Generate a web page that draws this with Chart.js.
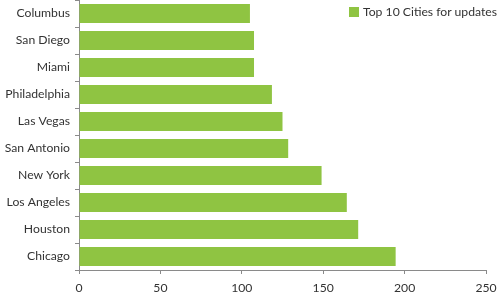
<!DOCTYPE html>
<html>
<head>
<meta charset="utf-8">
<script src="https://cdn.jsdelivr.net/npm/chart.js@4"></script>
<style>
  html, body { margin: 0; padding: 0; background: #fff; }
  #wrap { position: relative; width: 500px; height: 300px; }
  #legend { position: absolute; top: 4px; right: 3px; font: 12.2px Lato, sans-serif; color: #333; display: flex; align-items: center; white-space: nowrap; }
  #legend span.box { display: inline-block; width: 10px; height: 10px; margin-right: 4px; }
</style>
</head>
<body>
<div id="wrap">
  <canvas id="c" width="500" height="300"></canvas>
  <div id="legend"></div>
</div>
<script>
const categories = ["Columbus", "San Diego", "Miami", "Philadelphia", "Las Vegas", "San Antonio", "New York", "Los Angeles", "Houston", "Chicago"];
const seriesName = "Top 10 Cities for updates";
const values = [105, 107.5, 107.5, 118.5, 125, 128.5, 149, 164.5, 171.5, 194.5];
const xTicks = [0, 50, 100, 150, 200, 250];

const barColor = "#8fc442";
const axisColor = "#8a8a8a";
const textColor = "#333333";
const fontFamily = 'Lato, sans-serif';

document.getElementById("legend").innerHTML =
  '<span class="box" style="background:' + barColor + '"></span><span>' + seriesName + '</span>';

new Chart(document.getElementById("c"), {
  type: "bar",
  data: {
    labels: categories,
    datasets: [{
      label: seriesName,
      data: values,
      backgroundColor: barColor,
      borderWidth: 0,
      barPercentage: 0.7,
      categoryPercentage: 1.0
    }]
  },
  options: {
    indexAxis: "y",
    responsive: false,
    animation: false,
    layout: { padding: { left: 0, right: 14, top: 0, bottom: 0 } },
    plugins: { legend: { display: false }, tooltip: { enabled: false } },
    scales: {
      x: {
        min: xTicks[0],
        max: xTicks[xTicks.length - 1],
        afterBuildTicks: (s) => { s.ticks = xTicks.map(v => ({ value: v })); },
        afterFit: (s) => { s.height = 30; s.paddingLeft = 0; s.paddingRight = 0; },
        grid: { drawOnChartArea: false, color: axisColor, tickLength: 4, tickColor: axisColor },
        border: { color: axisColor },
        ticks: { color: textColor, font: { family: fontFamily, size: 12.2 }, padding: 7, maxRotation: 0 }
      },
      y: {
        afterFit: (s) => { s.width = 79; s.paddingTop = 0; s.paddingBottom = 0; },
        grid: { drawOnChartArea: false, offset: true, color: axisColor, tickLength: 4, tickColor: axisColor },
        border: { color: axisColor },
        ticks: { color: textColor, font: { family: fontFamily, size: 12.2 }, padding: 5 }
      }
    }
  }
});
</script>
</body>
</html>
